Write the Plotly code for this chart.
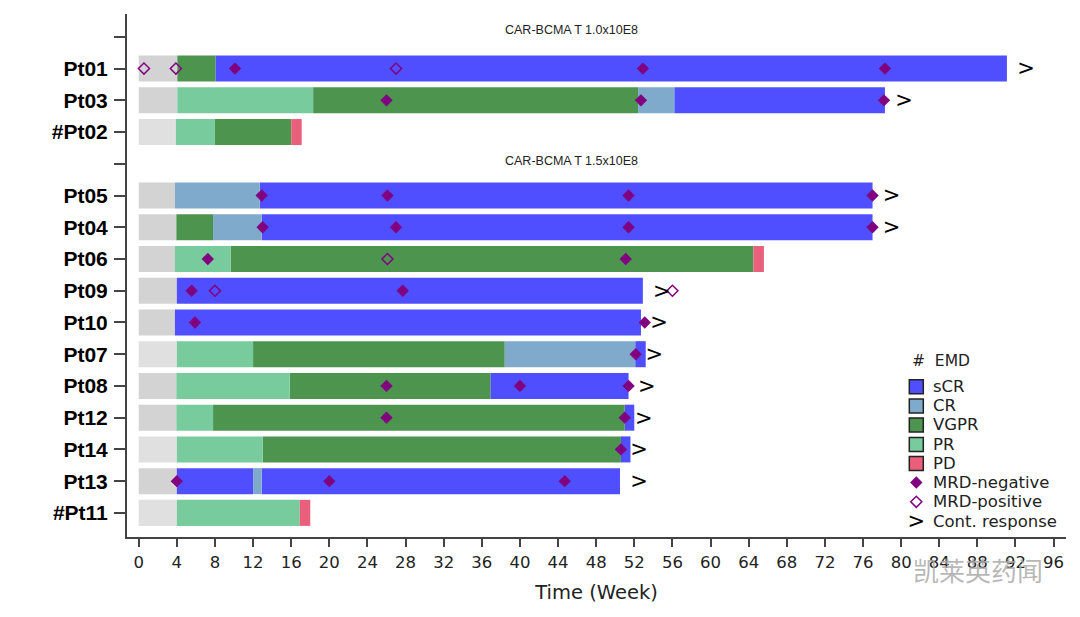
import plotly.graph_objects as go

# rows top to bottom, "" = spacer row with a bare tick
rows = ["", "Pt01", "Pt03", "#Pt02", "", "Pt05", "Pt04", "Pt06", "Pt09", "Pt10",
        "Pt07", "Pt08", "Pt12", "Pt14", "Pt13", "#Pt11"]
x_ticks = list(range(0, 97, 4))

# segments per response, in weeks
grey_pts = ["Pt01", "Pt03", "Pt05", "Pt04", "Pt06", "Pt09", "Pt10", "Pt08", "Pt12", "Pt13"]
grey_end = [4.05, 4.05, 3.8, 3.95, 3.8, 4.0, 3.8, 3.95, 3.95, 4.0]
light_pts = ["#Pt02", "Pt07", "Pt14", "#Pt11"]
light_end = [3.9, 4.0, 4.0, 4.0]

scr_pts = ["Pt01", "Pt03", "Pt05", "Pt04", "Pt09", "Pt10", "Pt07", "Pt08", "Pt12", "Pt14", "Pt13", "Pt13"]
scr_start = [8.05, 56.2, 12.7, 12.9, 4.0, 3.8, 52.1, 36.9, 51.0, 50.6, 4.0, 12.9]
scr_end = [91.1, 78.3, 77.0, 77.0, 52.9, 52.7, 53.2, 51.4, 52.0, 51.6, 12.0, 50.5]

cr_pts = ["Pt03", "Pt05", "Pt04", "Pt07", "Pt13"]
cr_start = [52.4, 3.8, 7.8, 38.4, 12.0]
cr_end = [56.2, 12.7, 12.9, 52.1, 12.9]

vgpr_pts = ["Pt01", "Pt03", "#Pt02", "Pt04", "Pt06", "Pt07", "Pt08", "Pt12", "Pt14"]
vgpr_start = [4.05, 18.3, 8.0, 3.95, 9.65, 12.0, 15.85, 7.8, 13.0]
vgpr_end = [8.05, 52.4, 16.0, 7.8, 64.5, 38.4, 36.9, 51.0, 50.6]

pr_pts = ["Pt03", "#Pt02", "Pt06", "Pt07", "Pt08", "Pt12", "Pt14", "#Pt11"]
pr_start = [4.05, 3.9, 3.8, 4.0, 3.95, 3.95, 4.0, 4.0]
pr_end = [18.3, 8.0, 9.65, 12.0, 15.85, 7.8, 13.0, 16.9]

pd_pts = ["#Pt02", "Pt06", "#Pt11"]
pd_start = [16.0, 64.5, 16.9]
pd_end = [17.1, 65.6, 18.0]

neg_pts = ["Pt01", "Pt01", "Pt01", "Pt03", "Pt03", "Pt03", "Pt05", "Pt05", "Pt05", "Pt05",
           "Pt04", "Pt04", "Pt04", "Pt04", "Pt06", "Pt06", "Pt09", "Pt09", "Pt10", "Pt10",
           "Pt07", "Pt08", "Pt08", "Pt08", "Pt12", "Pt12", "Pt14", "Pt13", "Pt13", "Pt13"]
neg_week = [10.1, 52.9, 78.3, 26.0, 52.7, 78.2, 12.9, 26.1, 51.4, 77.0,
            13.0, 27.0, 51.4, 77.0, 7.25, 51.1, 5.55, 27.7, 5.9, 53.1,
            52.15, 26.0, 40.0, 51.4, 26.0, 51.0, 50.6, 4.0, 20.0, 44.7]

pos_pts = ["Pt01", "Pt01", "Pt01", "Pt06", "Pt09", "Pt09"]
pos_week = [0.55, 3.9, 27.0, 26.1, 8.0, 56.0]

cont_pts = ["Pt01", "Pt03", "Pt05", "Pt04", "Pt09", "Pt10", "Pt07", "Pt08", "Pt12", "Pt14", "Pt13"]
cont_week = [93.1, 80.3, 79.0, 79.0, 54.9, 54.6, 54.1, 53.3, 53.0, 52.5, 52.5]

legend_labels = ["sCR", "CR", "VGPR", "PR", "PD", "MRD-negative", "MRD-positive", "Cont. response"]
legend_colors = ["#4f4fff", "#7faacc", "#4d944f", "#78cb9d", "#ea5f7b"]

# the page puts the figure 8px in from the corner
fig_w, fig_h = 1072, 609
m_l, m_r, m_t, m_b = 119, 14, 6, 79.5
x_range = [-1.23, 97.3]
y_range = [15.76, -0.72]
plot_left = 8 + m_l
plot_w = fig_w - m_l - m_r
plot_bottom = 8 + fig_h - m_b
plot_h = fig_h - m_t - m_b


def paper_x(px):
    return (px - plot_left) / plot_w


def paper_y(py):
    return (plot_bottom - py) / plot_h


def data_x(px):
    return x_range[0] + paper_x(px) * (x_range[1] - x_range[0])


def data_y(py):
    return y_range[0] + paper_y(py) * (y_range[1] - y_range[0])


def row_of(names):
    return [rows.index(n) for n in names]


fig = go.Figure()


def add_bars(names, start, end, color, name):
    fig.add_trace(go.Bar(y=row_of(names), x=[e - s for s, e in zip(start, end)], base=start,
                         orientation="h", width=0.82, marker=dict(color=color, line_width=0),
                         name=name))


def add_label(px, py, text, font, xanchor="center"):
    fig.add_annotation(xref="paper", yref="paper", x=paper_x(px), y=paper_y(py), text=text,
                       xanchor=xanchor, yanchor="middle", showarrow=False, borderpad=0, font=font)


add_bars(grey_pts, [0] * len(grey_pts), grey_end, "#d3d3d3", "Screening")
add_bars(light_pts, [0] * len(light_pts), light_end, "#e0e0e0", "Screening")
add_bars(scr_pts, scr_start, scr_end, "#4f4fff", "sCR")
add_bars(cr_pts, cr_start, cr_end, "#7faacc", "CR")
add_bars(vgpr_pts, vgpr_start, vgpr_end, "#4d944f", "VGPR")
add_bars(pr_pts, pr_start, pr_end, "#78cb9d", "PR")
add_bars(pd_pts, pd_start, pd_end, "#ea5f7b", "PD")

fig.add_trace(go.Scatter(x=neg_week, y=row_of(neg_pts), mode="markers", name="MRD-negative",
                         marker=dict(symbol="diamond", size=9.5, color="#800080")))
fig.add_trace(go.Scatter(x=pos_week, y=row_of(pos_pts), mode="markers", name="MRD-positive",
                         marker=dict(symbol="diamond-open", size=8.5, color="#800080",
                                     line=dict(color="#800080", width=1.5))))
fig.add_trace(go.Scatter(x=cont_week, y=[r + 0.05 for r in row_of(cont_pts)], mode="text",
                         text=[">"] * len(cont_pts), name="Cont. response",
                         textfont=dict(family="DejaVu Sans", size=21, color="black"),
                         textposition="middle center"))

# hand built key, plotly's own legend rows are too tall for this spacing
key_x = 916.3
key_y = [387, 406.3, 425.3, 445, 464, 483, 502.3, 522]
for yy, color in zip(key_y, legend_colors):
    fig.add_trace(go.Scatter(x=[data_x(key_x)], y=[data_y(yy)], mode="markers",
                             marker=dict(symbol="square", size=14, color=color,
                                         line=dict(color="#222222", width=1.5))))
fig.add_trace(go.Scatter(x=[data_x(key_x)], y=[data_y(key_y[5])], mode="markers",
                         marker=dict(symbol="diamond", size=9.5, color="#800080")))
fig.add_trace(go.Scatter(x=[data_x(key_x)], y=[data_y(key_y[6])], mode="markers",
                         marker=dict(symbol="diamond-open", size=8.5, color="#800080",
                                     line=dict(color="#800080", width=1.5))))
fig.add_trace(go.Scatter(x=[data_x(key_x)], y=[data_y(key_y[7] + 1.5)], mode="text", text=[">"],
                         textfont=dict(family="DejaVu Sans", size=21, color="black"),
                         textposition="middle center"))
key_font = dict(family="DejaVu Sans", size=16.5, color="#222222")
for yy, label in zip(key_y, legend_labels):
    add_label(932, yy, label, key_font, xanchor="left")
add_label(911, 361, "#  EMD", dict(family="DejaVu Sans", size=15.5, color="#222222"), xanchor="left")

title_font = dict(family="Liberation Sans", size=12.5, color="#222222")
add_label(571.5, 30.5, "CAR-BCMA T 1.0x10E8", title_font)
add_label(571.5, 161, "CAR-BCMA T 1.5x10E8", title_font)
# watermark over the axis labels
add_label(978, 570, "凯莱英药闻", dict(family="Noto Sans CJK SC", size=26, color="rgba(170,170,170,0.85)"))

fig.update_xaxes(range=x_range, tickmode="array", tickvals=x_ticks, ticks="outside", ticklen=8,
                 tickwidth=1.5, tickcolor="#444444", showline=True, linecolor="#444444", linewidth=2,
                 showgrid=False, zeroline=False, ticklabelstandoff=1,
                 title=dict(text="Time (Week)", standoff=15,
                            font=dict(family="DejaVu Sans", size=19.5, color="#222222")),
                 tickfont=dict(family="DejaVu Sans", size=16.5, color="#222222"))
fig.update_yaxes(range=y_range, tickmode="array", tickvals=list(range(len(rows))), ticktext=rows,
                 ticks="outside", ticklen=11, tickwidth=1.5, tickcolor="#444444", showline=True,
                 linecolor="#444444", linewidth=2, showgrid=False, zeroline=False, ticklabelstandoff=2,
                 tickfont=dict(family="Liberation Sans", size=21, color="black", weight="bold"))
fig.update_layout(width=fig_w, height=fig_h, margin=dict(l=m_l, r=m_r, t=m_t, b=m_b),
                  plot_bgcolor="white", paper_bgcolor="white", barmode="overlay", showlegend=False)

fig.write_html("out.html")
